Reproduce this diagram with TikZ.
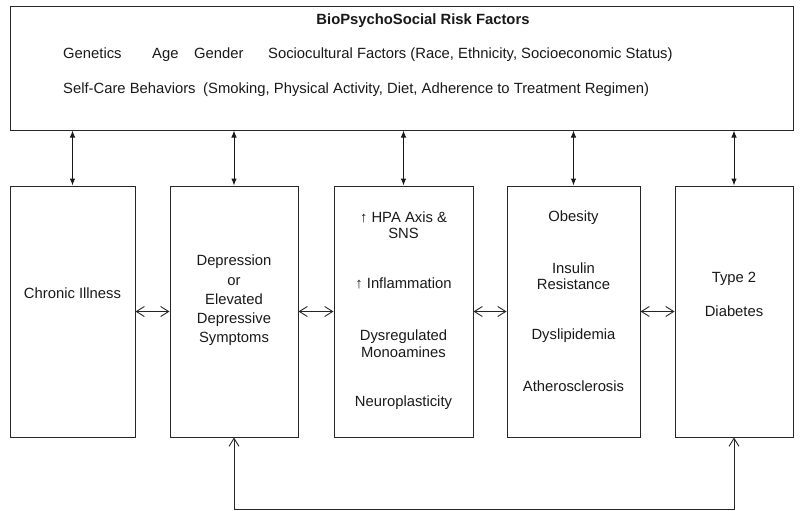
\documentclass[tikz,border=0pt]{standalone}
\usepackage{fontspec}
\setmainfont{Liberation Sans}
\usetikzlibrary{arrows.meta}
\begin{document}
\begin{tikzpicture}[x=1pt,y=-1pt,
  every node/.style={font=\fontsize{14.8}{17}\selectfont, inner sep=0pt},
  boxnode/.style={draw=black!85, line width=1pt, rectangle},
  lbl/.style={align=center, text=black!90},
  vline/.style={line width=1pt, draw=black!90, {Latex[length=7pt,width=5.5pt]}-{Latex[length=7pt,width=5.5pt]}},
  hline/.style={line width=0.9pt, draw=black!85, {Straight Barb[length=8pt,width=10pt]}-{Straight Barb[length=8pt,width=10pt]}},
]
\useasboundingbox (0,0) rectangle (800,511);
% boxes
\node[boxnode, minimum width=783pt, minimum height=123pt] (top) at (401.5,68.5) {};
\node[boxnode, minimum width=125pt, minimum height=251pt] (b1) at (72.5,311.5) {};
\node[boxnode, minimum width=128pt, minimum height=251pt] (b2) at (234,311.5) {};
\node[boxnode, minimum width=139pt, minimum height=251pt] (b3) at (403.5,311.5) {};
\node[boxnode, minimum width=133pt, minimum height=251pt] (b4) at (573.5,311.5) {};
\node[boxnode, minimum width=118pt, minimum height=251pt] (b5) at (734,311.5) {};
% top texts
\node[lbl, anchor=base, font=\fontsize{14.8}{17}\selectfont\bfseries] (title) at (423,25) {BioPsychoSocial Risk Factors};
\node[lbl, anchor=base west] (gen) at (63,59) {Genetics};
\node[lbl, anchor=base west] (age) at (152,59) {Age};
\node[lbl, anchor=base west] (gender) at (194,59) {Gender};
\node[lbl, anchor=base west] (socio) at (268,59) {Sociocultural Factors (Race, Ethnicity, Socioeconomic Status)};
\node[lbl, anchor=base west] (self) at (63,93) {Self-Care Behaviors};
\node[lbl, anchor=base west] (smoke) at (203,93) {(Smoking, Physical Activity, Diet, Adherence to Treatment Regimen)};
% box texts
\node[lbl] (t1) at (b1 |- 0,293) {Chronic Illness};
\node[lbl, font=\fontsize{14.8}{19.25}\selectfont] (t2) at (b2 |- 0,300.5) {Depression\\or\\Elevated\\Depressive\\Symptoms};
\node[lbl, font=\fontsize{14.8}{16}\selectfont] (t3a) at (b3 |- 0,225) {↑ HPA Axis \&\\SNS};
\node[lbl] (t3b) at (b3 |- 0,283) {↑ Inflammation};
\node[lbl, font=\fontsize{14.8}{17}\selectfont] (t3c) at (b3 |- 0,343.5) {Dysregulated\\Monoamines};
\node[lbl] (t3d) at (b3 |- 0,403) {Neuroplasticity};
\node[lbl] (t4a) at (b4 |- 0,218) {Obesity};
\node[lbl, font=\fontsize{14.8}{16}\selectfont] (t4b) at (b4 |- 0,276) {Insulin\\Resistance};
\node[lbl] (t4c) at (b4 |- 0,336) {Dyslipidemia};
\node[lbl] (t4d) at (b4 |- 0,386) {Atherosclerosis};
\node[lbl] (t5a) at (b5 |- 0,279) {Type 2};
\node[lbl] (t5b) at (b5 |- 0,311) {Diabetes};
% vertical arrows
\foreach \b in {b1,b2,b3,b4,b5}
  \draw[vline] (\b.north |- top.south) -- (\b.north);
% horizontal arrows
\draw[hline] (b1.east) -- (b2.west);
\draw[hline] (b2.east) -- (b3.west);
\draw[hline] (b3.east) -- (b4.west);
\draw[hline] (b4.east) -- (b5.west);
% bottom feedback
\coordinate (low) at (0,509);
\draw[hline] (b2.south) -- (b2.south |- low) -| (b5.south);
\end{tikzpicture}
\end{document}
